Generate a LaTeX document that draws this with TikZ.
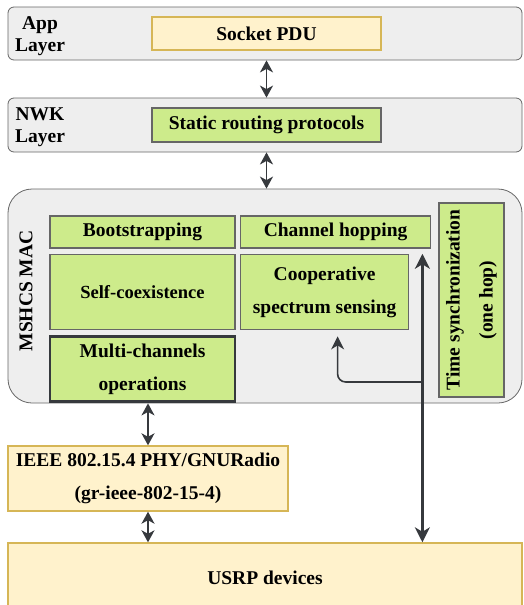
\documentclass[tikz,border=0pt]{standalone}
\usepackage{fontspec}
\setmainfont{Liberation Serif}
\usepackage{xcolor}
\usetikzlibrary{arrows.meta,positioning}
\definecolor{LayerGrey}{HTML}{EEEEEE}
\definecolor{EdgeGrey}{HTML}{666666}
\definecolor{Lime}{HTML}{CDEB8B}
\definecolor{Cream}{HTML}{FFF2CC}
\definecolor{Sand}{HTML}{D6B656}
\definecolor{Ink}{HTML}{36393D}

\begin{document}
\begin{tikzpicture}[x=1pt,y=-1pt,
  every node/.style={font=\fontsize{19.5}{33}\selectfont\bfseries,align=center,inner sep=0pt},
  layer/.style={draw=EdgeGrey,fill=LayerGrey,rounded corners=6pt,minimum width=514pt,line width=0.8pt},
  func/.style={draw=EdgeGrey,fill=Lime,line width=1.6pt},
  stack/.style={draw=Sand,fill=Cream,line width=1.4pt},
  tag/.style={font=\fontsize{19.5}{22}\selectfont\bfseries},
  arr/.style={-{Stealth[length=13pt,width=13pt,inset=4pt]},line width=1.6pt,Ink},
  dbl/.style={{Stealth[length=12pt,width=13pt,inset=3.5pt]}-{Stealth[length=12pt,width=13pt,inset=3.5pt]},line width=1.6pt,Ink},
  bus/.style={{Stealth[length=15pt,width=15pt,inset=4.5pt]}-{Stealth[length=15pt,width=15pt,inset=4.5pt]},line width=2.2pt,Ink}
]
\useasboundingbox (0,0) rectangle (524,605);
\node[layer,minimum height=53pt] (app) at (265,33.5) {};
\node[tag] (applbl) at (40,36) {App\\Layer};
\node[stack,minimum width=229pt,minimum height=33pt] (pdu) at (266.5,33.5) {Socket PDU};
\node[layer,minimum height=54pt] (nwk) at (265,125) {};
\node[tag] (nwklbl) at (40,127) {NWK\\Layer};
\node[func,minimum width=229pt,minimum height=34pt] (route) at (266.5,125) {Static routing protocols};
\node[layer,rounded corners=24pt,minimum height=214pt] (mac) at (265,296) {};
\node[tag,rotate=90] (maclbl) at (26,291) {MSHCS MAC};
\node[func,minimum width=185pt,minimum height=32pt] (boot) at (142.5,232) {Bootstrapping};
\node[func,minimum width=190pt,minimum height=32pt,right=4pt of boot] (hop) {Channel hopping};
\node[func,minimum width=185pt,minimum height=75pt,below=5pt of boot,font=\fontsize{18.5}{33}\selectfont\bfseries] (coex) {Self-coexistence};
\node[func,minimum width=168pt,minimum height=75pt,right=4pt of coex] (coop) {Cooperative\\spectrum sensing};
\node[func,draw=Ink,line width=2.2pt,minimum width=185pt,minimum height=65pt,below=5pt of coex] (multi) {Multi-channels\\operations};
\node[func,rotate=90,minimum width=194pt,minimum height=65pt] (sync) at (471.5,300) {Time synchronization\\(one hop)};
\node[stack,minimum width=280pt,minimum height=65pt] (phy) at (148,478.5) {IEEE 802.15.4 PHY/GNURadio\\(gr-ieee-802-15-4)};
\node[stack,minimum width=514pt,minimum height=70pt] (usrp) at (265,578) {USRP devices};

\draw[dbl] (pdu.south |- app.south) -- (pdu.south |- nwk.north);
\draw[dbl] (route.south |- nwk.south) -- (route.south |- mac.north);
\draw[dbl] (phy.north |- mac.south) -- (phy.north);
\draw[dbl] (phy.south) -- (phy.south |- usrp.north);
\coordinate (tap) at ([xshift=-9pt,yshift=-5pt]hop.south east);
\coordinate (fork) at (tap |- 0,382);
\draw[bus] (tap) -- (tap |- usrp.north);
\draw[arr,rounded corners=8pt] (fork) -| ([xshift=13pt,yshift=-6pt]coop.south);
\end{tikzpicture}
\end{document}
